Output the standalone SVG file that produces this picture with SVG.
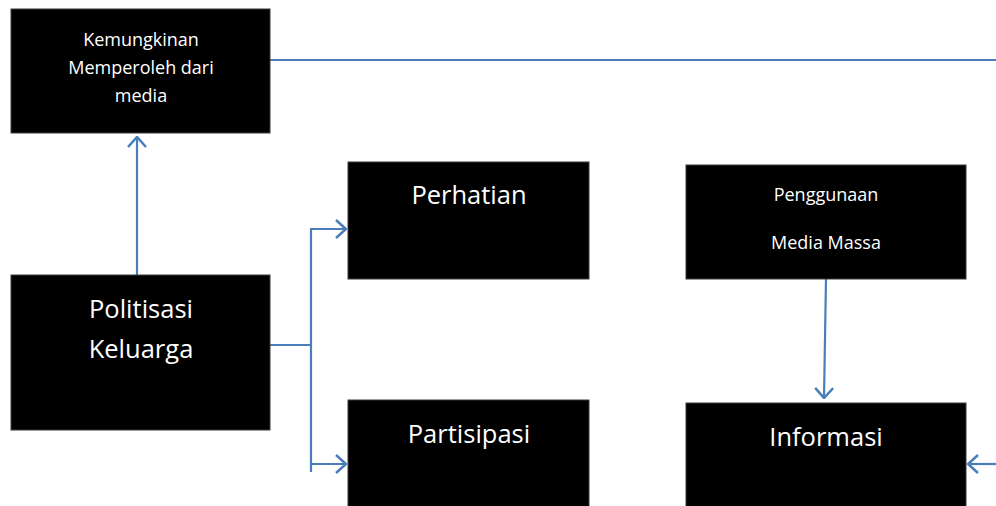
<svg xmlns="http://www.w3.org/2000/svg" width="996" height="506" viewBox="0 0 996 506">
<style>
.box{fill:#000;stroke:#3a3a3a;stroke-width:1}
.t{fill:#fff;font-family:"Open Sans","Liberation Sans",sans-serif;text-anchor:middle}
.s{font-size:18px}
.l{font-size:25.5px}
.c{fill:none;stroke:#4a7ebb;stroke-width:2.2}
</style>
<defs>
<marker id="ah" viewBox="0 0 12 20" refX="11" refY="10" markerWidth="12" markerHeight="20" markerUnits="userSpaceOnUse" orient="auto">
<path d="M1,1 L11,10 L1,19" fill="none" stroke="#4a7ebb" stroke-width="2.5"/>
</marker>
</defs>
<rect width="996" height="506" fill="#fff"/>
<g id="connectors">
<line class="c" x1="270" y1="60" x2="996" y2="60"/>
<line class="c" x1="137" y1="275" x2="137" y2="137" marker-end="url(#ah)"/>
<line class="c" x1="268" y1="345" x2="311" y2="345"/>
<line class="c" x1="311" y1="229" x2="311" y2="472"/>
<line class="c" x1="310" y1="229" x2="346" y2="229" marker-end="url(#ah)"/>
<line class="c" x1="310" y1="464" x2="346" y2="464" marker-end="url(#ah)"/>
<line class="c" x1="826" y1="279" x2="824" y2="398" marker-end="url(#ah)"/>
<line class="c" x1="996" y1="464" x2="968" y2="464" marker-end="url(#ah)"/>
</g>
<g id="kemungkinan">
<rect class="box" x="11" y="9" width="259" height="124"/>
<text class="t s" x="141" y="46">Kemungkinan</text>
<text class="t s" x="141" y="74">Memperoleh dari</text>
<text class="t s" x="141" y="102">media</text>
</g>
<g id="politisasi">
<rect class="box" x="11" y="275" width="259" height="155"/>
<text class="t l" x="141" y="318">Politisasi</text>
<text class="t l" x="141" y="358">Keluarga</text>
</g>
<g id="perhatian">
<rect class="box" x="348" y="162" width="241" height="117"/>
<text class="t l" x="469" y="204">Perhatian</text>
</g>
<g id="partisipasi">
<rect class="box" x="348" y="400" width="241" height="110"/>
<text class="t l" x="469" y="443">Partisipasi</text>
</g>
<g id="penggunaan">
<rect class="box" x="686" y="165" width="280" height="114"/>
<text class="t s" x="826" y="201">Penggunaan</text>
<text class="t s" x="826" y="249">Media Massa</text>
</g>
<g id="informasi">
<rect class="box" x="686" y="403" width="280" height="107"/>
<text class="t l" x="826" y="446">Informasi</text>
</g>
</svg>
